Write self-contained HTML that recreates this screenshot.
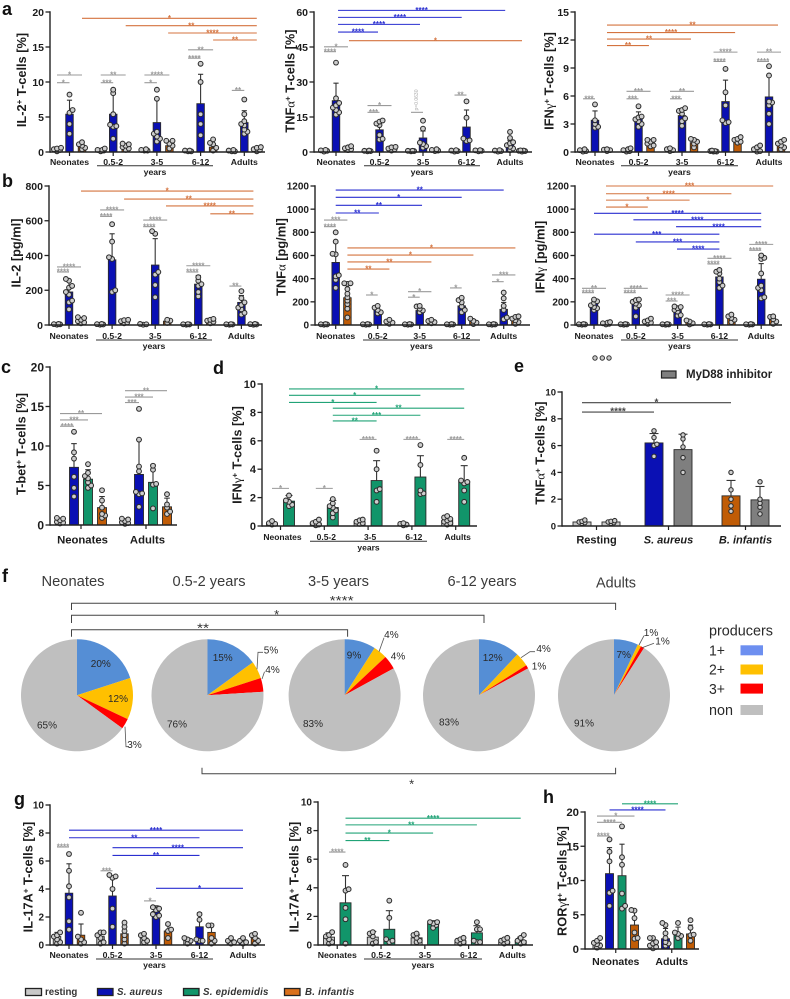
<!DOCTYPE html>
<html lang="en">
<head>
<meta charset="utf-8">
<title>T-cell cytokine responses by age group</title>
<style>
html,body{margin:0;padding:0;background:#fff;}
svg{display:block;font-family:"Liberation Sans",sans-serif;}
text{white-space:pre;}
.yt{font-size:12.8px;font-weight:bold;fill:#1c1c1c;text-anchor:middle;}
.gr{font-family:"Liberation Serif",serif;font-weight:normal;}
.letter{font-size:18px;font-weight:bold;fill:#111;}
.ptitle{font-size:14.5px;fill:#3a3a3a;text-anchor:middle;}
.leg{font-size:14.5px;fill:#2a2a2a;}
.bl{font-size:9.7px;font-weight:bold;fill:#333;}
.bi{font-size:9.7px;font-weight:bold;font-style:italic;fill:#333;letter-spacing:.25px;}
.st{font-size:13px;fill:#333;text-anchor:middle;}
</style>
</head>
<body>
<svg id="figure" width="790" height="999" viewBox="0 0 790 999" xmlns="http://www.w3.org/2000/svg">
<rect width="790" height="999" fill="#fff"/>

<text class="letter" x="2" y="15">a</text>
<text class="letter" x="2" y="187">b</text>
<text class="letter" x="1" y="373">c</text>
<text class="letter" x="213" y="374">d</text>
<text class="letter" x="514" y="372">e</text>
<text class="letter" x="2" y="582">f</text>
<text class="letter" x="14" y="805">g</text>
<text class="letter" x="543" y="803">h</text>

<g>
<text class="yt" transform="rotate(-90 26 80)" x="26" y="80">IL-2<tspan dy="-4" font-size="8">+</tspan><tspan dy="4"> T-cells [%]</tspan></text>
<text class="yt" transform="rotate(-90 294.5 81)" x="294.5" y="81">TNF<tspan class="gr">α</tspan><tspan dy="-4" font-size="8">+</tspan><tspan dy="4"> T-cells [%]</tspan></text>
<text class="yt" transform="rotate(-90 553.5 81)" x="553.5" y="81">IFN<tspan class="gr">γ</tspan><tspan dy="-4" font-size="8">+</tspan><tspan dy="4"> T-cells [%]</tspan></text>
<text class="yt" transform="rotate(-90 20.5 253)" x="20.5" y="253">IL-2 [pg/ml]</text>
<text class="yt" transform="rotate(-90 285.5 257)" x="285.5" y="257">TNF<tspan class="gr">α</tspan> [pg/ml]</text>
<text class="yt" transform="rotate(-90 544.5 257)" x="544.5" y="257">IFN<tspan class="gr">γ</tspan> [pg/ml]</text>
<text class="yt" transform="rotate(-90 25.5 444)" x="25.5" y="444">T-bet<tspan dy="-4" font-size="8">+</tspan><tspan dy="4"> T-cells [%]</tspan></text>
<text class="yt" transform="rotate(-90 241.5 455)" x="241.5" y="455">IFN<tspan class="gr">γ</tspan><tspan dy="-4" font-size="8">+</tspan><tspan dy="4"> T-cells [%]</tspan></text>
<text class="yt" transform="rotate(-90 544.5 453)" x="544.5" y="453">TNF<tspan class="gr">α</tspan><tspan dy="-4" font-size="8">+</tspan><tspan dy="4"> T-cells [%]</tspan></text>
<text class="yt" transform="rotate(-90 32.5 877)" x="32.5" y="877">IL-17A<tspan dy="-4" font-size="8">+</tspan><tspan dy="4"> T-cells [%]</tspan></text>
<text class="yt" transform="rotate(-90 298.5 877)" x="298.5" y="877">IL-17A<tspan dy="-4" font-size="8">+</tspan><tspan dy="4"> T-cells [%]</tspan></text>
<text class="yt" transform="rotate(-90 566.5 881)" x="566.5" y="881">ROR<tspan class="gr">γ</tspan>t<tspan dy="-4" font-size="8">+</tspan><tspan dy="4"> T-cells [%]</tspan></text>
</g>

<g id="panel-a1"></g>
<g id="panel-a2"></g>
<g id="panel-a3"></g>
<g id="panel-b1"></g>
<g id="panel-b2"></g>
<g id="panel-b3"></g>
<g id="panel-c"></g>
<g id="panel-d"></g>
<g id="panel-e"></g>
<g id="panel-g1"></g>
<g id="panel-g2"></g>
<g id="panel-h"></g>

<text transform="rotate(-90 418 100)" x="418" y="100" font-size="5" fill="#aaa" text-anchor="middle">p=0.0630</text>

<g>
<circle cx="595" cy="358" r="2.2" fill="#c9c9c9" stroke="#333"/>
<circle cx="602.3" cy="358" r="2.2" fill="#c9c9c9" stroke="#333"/>
<circle cx="609" cy="358" r="2.2" fill="#c9c9c9" stroke="#333"/>
<rect x="661.5" y="371" width="14.5" height="7" fill="#7f7f7f" stroke="#222" stroke-width="1.2"/>
<text x="686" y="378" font-size="11.5" font-weight="bold" fill="#222">MyD88 inhibitor</text>
</g>

<g id="pies"></g>

<g>
<text class="ptitle" x="73" y="586" textLength="63" lengthAdjust="spacingAndGlyphs">Neonates</text>
<text class="ptitle" x="209" y="586" textLength="73" lengthAdjust="spacingAndGlyphs">0.5-2 years</text>
<text class="ptitle" x="338.5" y="586" textLength="61" lengthAdjust="spacingAndGlyphs">3-5 years</text>
<text class="ptitle" x="482" y="586" textLength="69" lengthAdjust="spacingAndGlyphs">6-12 years</text>
<text class="ptitle" x="616" y="587.5" textLength="40" lengthAdjust="spacingAndGlyphs">Adults</text>
</g>

<g fill="none" stroke="#444" stroke-width="1">
<path d="M71.5 610V603.3H615.6V610"/>
<path d="M71.5 623V615.3H484V623"/>
<path d="M71.5 636.7V629.7H347.6V636.7"/>
<path d="M202 767.7V773.7H615.6V767.7"/>
</g>
<text class="st" x="341.6" y="605" textLength="24" lengthAdjust="spacingAndGlyphs">****</text>
<text class="st" x="276.6" y="619">*</text>
<text class="st" x="203" y="632.5" textLength="12" lengthAdjust="spacingAndGlyphs">**</text>
<text class="st" x="411.6" y="788.5">*</text>

<g>
<text class="leg" x="709" y="635.5" textLength="64" lengthAdjust="spacingAndGlyphs">producers</text>
<text class="leg" x="709" y="655.5" textLength="16" lengthAdjust="spacingAndGlyphs">1+</text>
<rect x="740.5" y="645.3" width="22.5" height="10" fill="#6d8ff0"/>
<text class="leg" x="709" y="674.5" textLength="16" lengthAdjust="spacingAndGlyphs">2+</text>
<rect x="740.5" y="664.5" width="22.5" height="10" fill="#ffc000"/>
<text class="leg" x="709" y="694" textLength="16" lengthAdjust="spacingAndGlyphs">3+</text>
<rect x="740.5" y="683.6" width="22.5" height="10" fill="#ff0000"/>
<text class="leg" x="709" y="715" textLength="24" lengthAdjust="spacingAndGlyphs">non</text>
<rect x="740.5" y="705" width="22.5" height="10" fill="#bfbfbf"/>
</g>

<g>
<rect x="25.5" y="988.5" width="16" height="7" fill="#c9c9c9" stroke="#222" stroke-width="1.3"/>
<text class="bl" x="45" y="995">resting</text>
<rect x="97.5" y="988.5" width="15.5" height="7" fill="#0a10b4" stroke="#222" stroke-width="1.3"/>
<text class="bi" x="117" y="995">S. aureus</text>
<rect x="183.5" y="988.5" width="15.5" height="7" fill="#11956a" stroke="#222" stroke-width="1.3"/>
<text class="bi" x="203" y="995">S. epidemidis</text>
<rect x="284.5" y="988.5" width="15.5" height="7" fill="#d9701c" stroke="#222" stroke-width="1.3"/>
<text class="bi" x="305" y="995">B. infantis</text>
</g>

<script>
/* ---------- categories and ticks ---------- */
const ageCategories = ["Neonates", "0.5-2", "3-5", "6-12", "Adults"];
const donorCategories = ["Neonates", "Adults"];
const stimulusCategories = ["Resting", "S. aureus", "B. infantis"];
const a1Ticks = [0, 5, 10, 15, 20];
const a2Ticks = [0, 15, 30, 45, 60];
const a3Ticks = [0, 3, 6, 9, 12, 15];
const b1Ticks = [0, 200, 400, 600, 800];
const b2Ticks = [0, 200, 400, 600, 800, 1000, 1200];
const b3Ticks = [0, 200, 400, 600, 800, 1000, 1200];
const cTicks = [0, 5, 10, 15, 20];
const dTicks = [0, 2, 4, 6, 8, 10];
const eTicks = [0, 2, 4, 6, 8, 10];
const g1Ticks = [0, 2, 4, 6, 8, 10];
const g2Ticks = [0, 2, 4, 6, 8, 10];
const hTicks = [0, 5, 10, 15, 20];

/* ---------- a: IL-2+ % ---------- */
const a1Means = [0.3, 5.4, 0.8, 0.3, 5.4, 0.7, 0.3, 4.2, 0.9, 0.1, 6.9, 0.7, 0.1, 4.2, 0.5];
const a1Errors = [0.2, 2.0, 0.3, 0.2, 2.9, 0.3, 0.1, 3.3, 0.4, 0.05, 4.2, 0.5, 0.1, 1.7, 0.2];
const a1Points = [[0.1,0.3,0.4,0.5,0.6],[2.6,4.0,5.6,6.0,8.2],[0.4,0.6,0.9,1.1,1.4],
 [0.1,0.2,0.3,0.5,0.3],[1.9,3.6,3.7,3.9,5.4,8.4,8.9],[0.3,0.5,0.7,0.9,1.1,1.2],
 [0.2,0.2,0.3,0.4],[1.5,1.9,2.2,2.6,2.9,7.6,8.9],[0.5,0.9,1.2,1.6,1.6],
 [0.1,0.1,0.2,0.2],[2.4,4.0,5.4,10,12.6],[0.2,0.6,1.1,1.3,1.8],
 [0.1,0.1,0.2,0.3],[2.6,2.9,3.2,3.8,4.0,4.4,5.4,7.5],[0.1,0.3,0.4,0.6,0.7]];
const a1Sig = [[2,14,19.1,"*","o"],[5,14,18.05,"**","o"],[7.9,14,17,"****","o"],[11,14,16,"**","o"],
 [0,1,9.9,"*","k"],[0,2,11,"*","k"],[3,4,9.9,"***","k"],[3,5,11,"**","k"],[6,7,9.9,"*","k"],[6,8,11,"****","k"],
 [9,10,13.4,"****","k"],[9,11,14.6,"**","k"],[12,13,8.8,"**","k"]];

/* ---------- a: TNFa+ % ---------- */
const a2Means = [0.5, 22, 1.5, 0.5, 9.5, 1.5, 0.5, 6, 0.7, 0.5, 10.7, 0.7, 0.5, 3.5, 0.5];
const a2Errors = [0.2, 7.5, 0.5, 0.1, 2.5, 0.5, 0.1, 3, 0.2, 0.2, 7.3, 0.2, 0.2, 1.5, 0.1];
const a2Points = [[0.2,0.5,0.7,0.9],[16,17,18,19,20,21,23,38.3],[0.8,1.2,1.6,2,2.5],
 [0.3,0.4,0.5,0.6],[5.3,5.6,7.3,11.5,12.2,13,13.5],[0.6,1.2,1.5,2,2.2],
 [0.3,0.4,0.5,0.5],[1.9,2.5,3.4,4,10,13.4],[0.4,0.6,0.9,1.2],
 [0.2,0.4,0.6,0.8],[4.7,5,5.8,14.7,21.7],[0.3,0.5,0.7,0.8],
 [0.2,0.4,0.6,0.8],[0.8,1.5,2.2,2.9,3.7,4.2,6,8.6],[0.2,0.4,0.5,0.6,0.7]];
const a2Sig = [[1.17,12.6,60.7,"****","b"],[1.17,9.6,57.7,"****","b"],[1.17,6.75,54.7,"****","b"],[1.17,3.875,51.4,"****","b"],
 [2.08,14,47.7,"*","o"],[0,2,45.1,"*","k"],[0,1,43,"****","k"],[3,4,17,"***","k"],[3,5,19.9,"*","k"],[6,7,17,"","k"],[9,10,24.4,"**","k"]];

/* ---------- a: IFNg+ % ---------- */
const a3Means = [0.1, 3.4, 0.1, 0.2, 3.7, 1, 0.2, 3.9, 1, 0.1, 5.4, 1.3, 0.3, 5.9, 0.7];
const a3Errors = [0.1, 1, 0.05, 0.1, 0.6, 0.3, 0.1, 0.6, 0.4, 0.03, 2.3, 0.2, 0.2, 2.3, 0.3];
const a3Points = [[0.05,0.1,0.2,0.3],[2.6,2.7,3,3.4,5.1],[0.1,0.2,0.25,0.3],
 [0.05,0.1,0.2,0.3,0.4],[2.7,3,3.3,3.5,3.7,3.8,4.9],[0.6,0.7,0.9,1.1,1.3,1.3],
 [0.1,0.2,0.3,0.4],[2.8,3.3,3.6,4.1,4.4,4.5,4.7],[0.5,0.9,1.1,1.3,1.4],
 [0.05,0.05,0.1,0.1,0.15],[3.1,3.2,3.4,5,6.4,8.9],[1,1.1,1.3,1.4,1.6],
 [0.05,0.1,0.3,0.5,0.7],[3,4.1,5,5.3,5.4,8.2,9.2],[0.3,0.5,0.7,0.9,1.1,1.3]];
const a3Sig = [[2,13.75,13.6,"**","o"],[2,10.8,12.8,"****","o"],[2,7.75,12.1,"**","o"],[2,4.87,11.4,"**","o"],
 [0,1,5.7,"***","k"],[3,4,5.7,"***","k"],[3,5,6.5,"***","k"],[6,7,5.7,"***","k"],[6,8,6.5,"**","k"],
 [9,10,9.7,"****","k"],[9,11,10.7,"****","k"],[12,13,9.7,"****","k"],[12,14,10.7,"**","k"]];

/* ---------- b: IL-2 pg/ml ---------- */
const b1Means = [5, 190, 25, 5, 375, 25, 5, 345, 22, 5, 235, 25, 5, 130, 5];
const b1Errors = [2, 70, 12, 2, 150, 8, 2, 152, 9, 1, 50, 9, 1, 40, 2];
const b1Points = [[2,4,5,6],[90,130,140,175,190,215,225,255,265],[10,15,22,30,40,45],
 [2,3,5,6],[190,200,380,390,480,580],[10,15,22,28,30],
 [2,4,6],[160,230,290,305,525,540],[12,25,30],
 [2,3,4,5],[165,190,225,235,255,275],[10,18,25,30,35],
 [2,3,4,5],[60,70,90,100,115,130,155,195],[2,3,5,6]];
const b1Sig = [[2,14,771,"*","o"],[5,14,725,"**","o"],[7.9,14,685,"****","o"],[11,14,640,"**","o"],
 [0,1,305,"****","k"],[0,2,334,"****","k"],[3,4,625,"****","k"],[3,5,662,"****","k"],[6,7,566,"****","k"],[6,8,604,"****","k"],
 [9,10,305,"****","k"],[9,11,341,"****","k"],[12,13,224,"**","k"]];

/* ---------- b: TNFa pg/ml ---------- */
const b2Means = [5, 540, 235, 5, 130, 30, 5, 125, 30, 5, 165, 30, 5, 135, 40];
const b2Errors = [2, 170, 125, 2, 30, 12, 1, 35, 12, 1, 60, 15, 1, 60, 22];
const b2Points = [[3,5,6,8],[320,390,420,430,610,615,720,800],[65,140,180,210,240,270,310,355,360,360],
 [3,5,6,8],[100,110,130,150,165],[10,20,30,45],
 [3,5,6,8],[110,125,140,160,165],[15,25,35,45],
 [3,5,6,8],[110,130,160,195,215,235],[8,20,35,55],
 [3,5,6,8],[50,65,130,165,230,280],[10,25,40,55,70,75]];
const b2Sig = [[1,13,1165,"**","b"],[1,10,1102,"*","b"],[1,7.2,1033,"**","b"],[1,4.1,967,"**","b"],
 [2,14,665,"*","o"],[2,11,604,"*","o"],[2,8,544,"**","o"],[2,5,483,"**","o"],
 [0,1,849,"****","k"],[0,2,906,"***","k"],[3,4,259,"*","k"],[6,7,240,"*","k"],[6,8,288,"*","k"],[9,10,320,"*","k"],[12,13,374,"*","k"],[12,14,432,"***","k"]];

/* ---------- b: IFNg pg/ml ---------- */
const b3Means = [5, 190, 15, 5, 175, 25, 5, 125, 25, 5, 415, 60, 5, 395, 45];
const b3Errors = [2, 20, 8, 2, 40, 14, 2, 30, 12, 1, 45, 20, 1, 135, 25];
const b3Points = [[3,5,6,8],[130,145,155,170,190,205,220],[5,10,15,20,25],
 [3,5,6,8],[75,150,170,185,200,215,220],[10,20,30,40,55],
 [3,5,6,8],[80,85,115,130,145,155,160],[5,15,30,40],
 [3,5,6,8],[320,340,370,400,445,460,475],[25,45,60,75,90],
 [3,5,6,8],[230,240,300,320,340,445,570,580,600],[10,30,50,70,75]];
const b3Sig = [[2,14,1200,"***","o"],[2,11,1133,"****","o"],[2,8,1078,"*","o"],[2,5,1018,"*","o"],
 [1,13,964,"****","b"],[3.8,13,908,"****","b"],[6.87,13,849,"****","b"],[1,10,784,"***","b"],[4,10,717,"***","b"],[6.95,10,656,"****","b"],
 [0,1,279,"****","k"],[0,2,317,"**","k"],[3,4,279,"****","k"],[3,5,317,"****","k"],[6,7,207,"***","k"],[6,8,259,"****","k"],
 [9,10,527,"****","k"],[9,11,576,"****","k"],[12,13,645,"****","k"],[12,14,696,"****","k"]];

/* ---------- c: T-bet+ ---------- */
const cMeans = [0.4, 7.3, 5.8, 2.2, 0.4, 6.4, 5.4, 2.3];
const cErrors = [0.2, 3, 1.2, 1.4, 0.2, 4.4, 2.2, 1.1];
const cPoints = [[0.2,0.3,0.4,0.6,0.8,0.9],[3.6,4.7,6.1,8.4,9.2,11.8],[4.7,5,5.4,5.9,6.2,6.6,7.7],[0.9,1.2,1.4,2.2,3.1,4.4],
 [0.15,0.25,0.35,0.5,0.7,0.8],[2.3,3.9,4,4.2,6.8,7.4,10.8,14.7],[2.1,5.1,5.2,7,7.5],[1.4,1.7,2.2,2.6,3.9]];
const cSig = [[0,1,12.5,"****","k"],[0,2,13.3,"***","k"],[0,3,14.1,"**","k"],[4,5,15.5,"***","k"],[4,6,16.2,"***","k"],[4,7,17,"**","k"]];

/* ---------- d: IFNg+ S. epidemidis ---------- */
const dMeans = [0.2, 1.75, 0.2, 1.3, 0.3, 3.2, 0.1, 3.45, 0.4, 3.15];
const dErrors = [0.1, 0.4, 0.1, 0.5, 0.1, 1.4, 0.05, 1.5, 0.15, 1.1];
const dPoints = [[0.1,0.15,0.2,0.35],[1.4,1.5,1.7,1.8,2.15],
 [0.05,0.1,0.2,0.3,0.45],[0.6,0.9,1.1,1.3,1.4,1.6,1.9],
 [0.15,0.2,0.3,0.4,0.45],[1.7,2.5,2.6,4.0,5.3],
 [0.05,0.1,0.15,0.2],[2.3,2.5,2.25,4.3,5.7],
 [0.1,0.2,0.3,0.4,0.5,0.6,0.7],[1.7,2.5,3,3.1,3.2,4.8]];
const dSig = [[1,9,9.65,"*","t"],[1,7,9.2,"*","t"],[1,5,8.7,"*","t"],[3,9,8.3,"**","t"],[3,7,7.8,"***","t"],[3,5,7.4,"**","t"],
 [0,1,2.65,"*","k"],[2,3,2.65,"*","k"],[4,5,6.1,"****","k"],[6,7,6.1,"****","k"],[8,9,6.1,"****","k"]];

/* ---------- e: TNFa+ with MyD88 inhibitor ---------- */
const eMeans = [0.3, 0.3, 6.2, 5.7, 2.25, 1.95];
const eErrors = [0.1, 0.05, 0.7, 1.15, 1.15, 1];
const ePoints = [[0.2,0.25,0.3,0.35,0.45],[0.2,0.25,0.3,0.35,0.4],[5.2,6,6.1,6.6,7.1],[4,5.1,5.9,6.5,6.8],[1.1,1.5,2,2.7,4],[0.9,1.4,1.7,2,3.3]];
const eSig = [[0,2,8.5,"****","d"],[0,4,9.2,"*","d"]];

/* ---------- g: IL-17A+ S. aureus / B. infantis ---------- */
const g1Means = [0.6, 3.7, 0.7, 0.6, 3.5, 0.8, 0.5, 2.4, 1, 0.3, 1.3, 0.9, 0.3, 0.3, 0.5];
const g1Errors = [0.3, 2.1, 0.8, 0.4, 1.3, 0.7, 0.3, 0.4, 0.4, 0.2, 1, 0.6, 0.1, 0.2, 0.3];
const g1Points = [[0.1,0.2,0.4,0.6,0.7,0.9],[1.1,1.7,3.4,4.2,5.3,6.5],[0.1,0.2,0.4,0.6,2.3],
 [0.1,0.2,0.5,0.7,0.9,0.9],[1.3,2.6,4,4.8,4.9,5],[0.1,0.4,0.7,1,1.3,1.6],
 [0.2,0.3,0.5,0.7,0.8],[2,2.1,2.2,2.5,2.6,2.7],[0.5,1,1.1,1.5],
 [0.1,0.3,0.4,0.5],[0.3,0.3,0.4,1.8,2.2],[0.1,0.3,0.5,1.4,1.4],
 [0.1,0.2,0.3,0.5],[0.1,0.2,0.3,0.5],[0.1,0.3,0.5,0.7,0.8]];
const g1Sig = [[1,13,8.2,"****","b"],[1,10,7.66,"**","b"],[4,13,6.95,"****","b"],[4,10,6.4,"**","b"],[7,13,4.05,"*","b"],
 [0,1,7,"****","k"],[3,4,5.3,"***","k"],[6,7,3.15,"*","k"]];

/* ---------- g: IL-17A+ S. epidemidis ---------- */
const g2Means = [0.55, 2.95, 0.55, 1.1, 0.5, 1.5, 0.3, 0.85, 0.2, 0.3];
const g2Errors = [0.3, 1.9, 0.4, 1.3, 0.2, 0.2, 0.15, 0.5, 0.1, 0.25];
const g2Points = [[0.1,0.2,0.4,0.6,0.7,0.9],[0.1,1.8,2.6,3.8,3.9,5.6],
 [0.1,0.2,0.6,0.8,0.9],[0.2,0.3,0.4,1.9,3.1],
 [0.2,0.3,0.5,0.7,0.8],[1.2,1.4,1.5,1.6,1.6],
 [0.1,0.2,0.3,0.4,0.5],[0.2,0.2,0.3,1.1,1.1,1.6],
 [0.1,0.2,0.3,0.4,0.5],[0.1,0.2,0.3,0.5,0.7]];
const g2Sig = [[1,9,8.87,"****","t"],[1,7,8.4,"**","t"],[1,5,7.83,"*","t"],[1,3,7.3,"**","t"],[0,1,6.5,"****","k"]];

/* ---------- h: RORgt+ ---------- */
const hMeans = [0.9, 11, 10.7, 3.5, 0.8, 1.5, 2, 2.2];
const hErrors = [0.4, 3.8, 4.6, 2.2, 0.5, 1.5, 1.2, 1.3];
const hPoints = [[0.2,0.5,0.7,0.9,1.2,1.6],[6.3,8.2,8.5,12.8,14.2,16],[5.9,6.3,8.1,12.3,13.4,17.9],[1.5,1.6,2.4,4.5,5.6,5.7],
 [0.1,0.3,0.5,0.8,1,1.6,1.6],[0.5,0.8,1,1.6,2.3,3.5,3.8],[1.6,1.9,2.2,2.4,3.8],[1.2,2,2.1,3.1,4.2]];
const hSig = [[2,6,21.2,"****","t"],[1,5,20.3,"****","b"],[0,3,19.4,"*","k"],[0,2,18.5,"****","k"],[0,1,16.5,"****","k"]];

/* ---------- f: pie slices (1+, 2+, 3+, non) ---------- */
const pieNeonates = [20, 12, 3, 65];
const pie05to2 = [15, 5, 4, 76];
const pie3to5 = [9, 4, 4, 83];
const pie6to12 = [12, 4, 1, 83];
const pieAdults = [7, 1, 1, 91];

/* ---------- drawing ---------- */
const NS = "http://www.w3.org/2000/svg";
const fills = {R: "#c9c9c9", A: "#0a10b4", E: "#11956a", I: "#c05c06", M: "#7f7f7f"};
const sigColors = {o: "#d4733f", b: "#2a2fd0", k: "#9a9a9a", t: "#21a377", d: "#444444"};
const pieFills = ["#558ed5", "#ffc000", "#ff0000", "#bfbfbf"];

function make(parent, tag, attrs, txt) {
  const el = document.createElementNS(NS, tag);
  for (const k in attrs) el.setAttribute(k, attrs[k]);
  if (txt !== undefined) el.textContent = txt;
  parent.appendChild(el);
  return el;
}

/* symmetric, tightly packed swarm: alternates sides so clusters stay centred */
function swarm(values, yScale, xc, r) {
  const placed = [];
  const sorted = values.slice().sort((p, q) => p - q);
  const step = r * 0.65;
  let side = 1;
  for (const v of sorted) {
    const y = yScale(v);
    const offs = [0, side * 2 * step, -side * 2 * step, side * step, -side * step, side * 2.6 * step, -side * 2.6 * step];
    let best = 0, bestDist = -1;
    for (const o of offs) {
      let nearest = Infinity;
      placed.forEach(p => { nearest = Math.min(nearest, Math.hypot(p.x - (xc + o), p.y - y)); });
      if (nearest >= r * 1.2) { best = o; break; }
      if (nearest > bestDist) { bestDist = nearest; best = o; }
    }
    if (best !== 0) side = best > 0 ? -1 : 1;
    placed.push({x: xc + best, y: y});
  }
  return placed;
}

function drawPanel(L, categories, ticks, means, errors, points, sig) {
  const root = document.getElementById(L.id);
  const yScale = v => L.y0 - v / L.yMax * (L.y0 - L.yTop);
  const groupAt = g => L.groupOffsets ? L.groupOffsets[g] : g * L.gs;
  const xOf = s => {
    const g = Math.min(Math.floor(s / L.n), categories.length - 1);
    return L.x0 + groupAt(g) + (s - g * L.n) * L.bs;
  };

  /* bars, error bars */
  means.forEach((m, i) => {
    const xc = xOf(i);
    const key = L.pattern[i % L.pattern.length];
    const bar = make(root, "rect", {x: xc - L.barW / 2, y: yScale(m), width: L.barW, height: Math.max(0, L.y0 - yScale(m)), fill: fills[key], stroke: "#2a2a2a", "stroke-width": 0.9});
    
    
    const top = yScale(m + errors[i]);
    const stem = make(root, "line", {x1: xc, x2: xc, y1: yScale(m), y2: top, stroke: "#333", "stroke-width": 1.1});
    
    
    const cap = make(root, "line", {x1: xc - L.capW, x2: xc + L.capW, y1: top, y2: top, stroke: "#333", "stroke-width": 1.1});
    
    
  });

  /* data points */
  points.forEach((vals, i) => {
    swarm(vals, yScale, xOf(i), L.r).forEach(p => {
      const dot = make(root, "circle", {cx: p.x, cy: p.y, r: L.r, fill: "#cdcdcd", stroke: "#2c2c2c", "stroke-width": 1.05});
      
      
    });
  });

  /* axes */
  const yAxis = make(root, "line", {x1: L.axisX, x2: L.axisX, y1: L.y0 + 0.7, y2: L.yTop - 0.7, stroke: "#222", "stroke-width": 1.4});
  
  
  const xAxis = make(root, "line", {x1: L.axisX, x2: L.xEnd, y1: L.y0, y2: L.y0, stroke: "#222", "stroke-width": 1.4});
  
  
  ticks.forEach(t => {
    const tick = make(root, "line", {x1: L.axisX - 4.5, x2: L.axisX, y1: yScale(t), y2: yScale(t), stroke: "#222", "stroke-width": 1.3});
    
    
    const lab = make(root, "text", {x: L.axisX - 6, y: yScale(t) + L.tickSize * 0.36, "text-anchor": "end", "font-size": L.tickSize, "font-weight": "bold", fill: "#1c1c1c"}, String(t));
    
    
  });
  categories.forEach((c, g) => {
    const cx = L.x0 + groupAt(g) + L.bs * (L.n - 1) / 2;
    const xt = make(root, "line", {x1: cx, x2: cx, y1: L.y0, y2: L.y0 + 4, stroke: "#222", "stroke-width": 1.2});
    
    
    const lab = make(root, "text", {x: cx + (L.labelShift || 0), y: L.labelY, "text-anchor": "middle", "font-size": L.labelSize, "font-weight": "bold", fill: "#1c1c1c"}, c);
    if (L.italic && g > 0) lab.setAttribute("font-style", "italic");
    
    
  });

  /* years underline */
  if (L.years) {
    const u = make(root, "line", {x1: L.years[0], x2: L.years[1], y1: L.years[2], y2: L.years[2], stroke: "#333", "stroke-width": 1});
    
    
    const yl = make(root, "text", {x: (L.years[0] + L.years[1]) / 2, y: L.years[3], "text-anchor": "middle", "font-size": L.labelSize, "font-weight": "bold", fill: "#1c1c1c"}, "years");
    
    
  }

  /* significance lines */
  sig.forEach(s => {
    const color = sigColors[s[4]];
    const x1 = xOf(s[0]), x2 = xOf(s[1]), y = yScale(s[2]);
    const ln = make(root, "line", {x1: x1, x2: x2, y1: y, y2: y, stroke: color, "stroke-width": 1.1});
    
    
    if (s[3]) {
      const st = make(root, "text", {x: (x1 + x2) / 2, y: y + 2.6, "text-anchor": "middle", "font-size": L.starSize || 8, "font-weight": "bold", fill: color}, s[3]);
      
      
    }
  });
}

const rai = ["R", "A", "I"];
const re = ["R", "E"];
const raei = ["R", "A", "E", "I"];
const rmamim = ["R", "R", "A", "M", "I", "M"];

drawPanel({id: "panel-a1", axisX: 50, xEnd: 265, y0: 152, yTop: 12, yMax: 20, x0: 57, gs: 43.7, bs: 12.5, n: 3, barW: 7.5, capW: 2.6, r: 2.4, pattern: rai, tickSize: 10.5, labelY: 165, labelSize: 8.7, years: [97, 213, 165.7, 175]}, ageCategories, a1Ticks, a1Means, a1Errors, a1Points, a1Sig);
drawPanel({id: "panel-a2", axisX: 314, xEnd: 532, y0: 152, yTop: 12, yMax: 60, x0: 324, gs: 43.5, bs: 12, n: 3, barW: 7.5, capW: 2.6, r: 2.4, pattern: rai, tickSize: 10.5, labelY: 165, labelSize: 8.7, years: [364, 480, 165.7, 175]}, ageCategories, a2Ticks, a2Means, a2Errors, a2Points, a2Sig);
drawPanel({id: "panel-a3", axisX: 575, xEnd: 790, y0: 152, yTop: 12, yMax: 15, x0: 583, gs: 43.5, bs: 12, n: 3, barW: 7.5, capW: 2.6, r: 2.4, pattern: rai, tickSize: 10.5, labelY: 165, labelSize: 8.7, years: [621, 738, 165.7, 175]}, ageCategories, a3Ticks, a3Means, a3Errors, a3Points, a3Sig);
drawPanel({id: "panel-b1", axisX: 49, xEnd: 262, y0: 325, yTop: 186, yMax: 800, x0: 57, gs: 43.1, bs: 12, n: 3, barW: 7.5, capW: 2.6, r: 2.4, pattern: rai, tickSize: 10.5, labelY: 339, labelSize: 8.7, years: [96, 212, 340, 349]}, ageCategories, b1Ticks, b1Means, b1Errors, b1Points, b1Sig);
drawPanel({id: "panel-b2", axisX: 315, xEnd: 530, y0: 325, yTop: 186, yMax: 1200, x0: 324, gs: 42, bs: 11.7, n: 3, barW: 7.5, capW: 2.6, r: 2.4, pattern: rai, tickSize: 10, labelY: 339, labelSize: 8.7, years: [363, 480, 340, 349]}, ageCategories, b2Ticks, b2Means, b2Errors, b2Points, b2Sig);
drawPanel({id: "panel-b3", axisX: 575, xEnd: 782, y0: 325, yTop: 186, yMax: 1200, x0: 582, gs: 41.8, bs: 12, n: 3, barW: 7.5, capW: 2.6, r: 2.4, pattern: rai, tickSize: 10, labelY: 339, labelSize: 8.7, years: [621, 738, 340, 349]}, ageCategories, b3Ticks, b3Means, b3Errors, b3Points, b3Sig);
drawPanel({id: "panel-c", axisX: 50, xEnd: 177, y0: 525, yTop: 367, yMax: 20, x0: 60, gs: 65, bs: 14, n: 4, barW: 9, capW: 2.8, r: 2.4, pattern: raei, tickSize: 12, labelY: 543.5, labelSize: 11.3, labelShift: 1.5}, donorCategories, cTicks, cMeans, cErrors, cPoints, cSig);
drawPanel({id: "panel-d", axisX: 262, xEnd: 477, y0: 526, yTop: 384, yMax: 10, x0: 272, gs: 43.8, bs: 17, n: 2, barW: 11, capW: 3.5, r: 2.4, pattern: re, tickSize: 11, labelY: 540, labelSize: 8.5, labelShift: 2, years: [310, 427, 541.3, 550.5]}, ageCategories, dTicks, dMeans, dErrors, dPoints, dSig);
drawPanel({id: "panel-e", axisX: 562, xEnd: 781, y0: 526, yTop: 392, yMax: 10, x0: 582, groupOffsets: [0, 72, 149], bs: 29, n: 2, barW: 18, capW: 4.5, r: 2.2, pattern: rmamim, tickSize: 9.5, labelY: 543.5, labelSize: 11, italic: true, starSize: 10}, stimulusCategories, eTicks, eMeans, eErrors, ePoints, eSig);
drawPanel({id: "panel-g1", axisX: 50, xEnd: 265, y0: 945, yTop: 805, yMax: 10, x0: 57, gs: 43.5, bs: 12, n: 3, barW: 7.5, capW: 2.6, r: 2.4, pattern: rai, tickSize: 10, labelY: 958, labelSize: 8.7, years: [96, 213, 959, 968]}, ageCategories, g1Ticks, g1Means, g1Errors, g1Points, g1Sig);
drawPanel({id: "panel-g2", axisX: 318, xEnd: 533, y0: 945, yTop: 802, yMax: 10, x0: 329, gs: 43.8, bs: 16.5, n: 2, barW: 11, capW: 3.5, r: 2.4, pattern: re, tickSize: 10, labelY: 958, labelSize: 8.7, years: [364, 482, 959, 968]}, ageCategories, g2Ticks, g2Means, g2Errors, g2Points, g2Sig);
drawPanel({id: "panel-h", axisX: 585, xEnd: 699, y0: 949, yTop: 812, yMax: 20, x0: 597, gs: 56, bs: 12.5, n: 4, barW: 8, capW: 2.6, r: 2.4, pattern: raei, tickSize: 11.4, labelY: 965, labelSize: 10.5}, donorCategories, hTicks, hMeans, hErrors, hPoints, hSig);

/* pies */
function drawPie(cx, cy, r, values, spots) {
  const root = document.getElementById("pies");
  const total = values.reduce((p, q) => p + q, 0);
  let cum = 0;
  values.forEach((v, i) => {
    const a0 = cum / total * 2 * Math.PI;
    cum += v;
    const a1 = cum / total * 2 * Math.PI;
    const large = (a1 - a0) > Math.PI ? 1 : 0;
    const d = "M" + cx + " " + cy + "L" + (cx + r * Math.sin(a0)) + " " + (cy - r * Math.cos(a0)) +
      "A" + r + " " + r + " 0 " + large + " 1 " + (cx + r * Math.sin(a1)) + " " + (cy - r * Math.cos(a1)) + "Z";
    const slice = make(root, "path", {d: d, fill: pieFills[i]});
    
    
  });
  values.forEach((v, i) => {
    const lab = make(root, "text", {x: spots[i][0], y: spots[i][1] + 3.6, "text-anchor": "middle", "font-size": 10, fill: "#2a2a2a"}, v + "%");
    
    
  });
}
drawPie(77, 695.3, 56, pieNeonates, [[100.8, 663.3], [118, 698.3], [134.5, 744.3], [47, 725]]);
drawPie(207.5, 695.3, 56, pie05to2, [[222.7, 657.3], [271, 650], [272.5, 669.3], [177, 724]]);
drawPie(344.6, 695.3, 56, pie3to5, [[354, 655], [391.4, 634.3], [398, 655.7], [313, 723.3]]);
drawPie(479, 695.3, 56, pie6to12, [[492.7, 657.3], [543.6, 648.3], [539, 665.7], [449, 721.7]]);
drawPie(614, 695.3, 56, pieAdults, [[623.7, 654.3], [651, 632.3], [662.5, 641], [584, 722.7]]);
</script>

<g fill="none" stroke="#555" stroke-width=".8">
<path d="M125 726.7L126 746.7H129"/>
<path d="M257 669.3L258 652.3H263"/>
<path d="M262 679L264.5 671.7"/>
<path d="M379 651.7L384 637.7"/>
<path d="M521 657.7L530 651.7H535"/>
<path d="M639 645L644 635.7"/>
<path d="M642 647.7L654 643.3"/>
</g>
</svg>
</body>
</html>
